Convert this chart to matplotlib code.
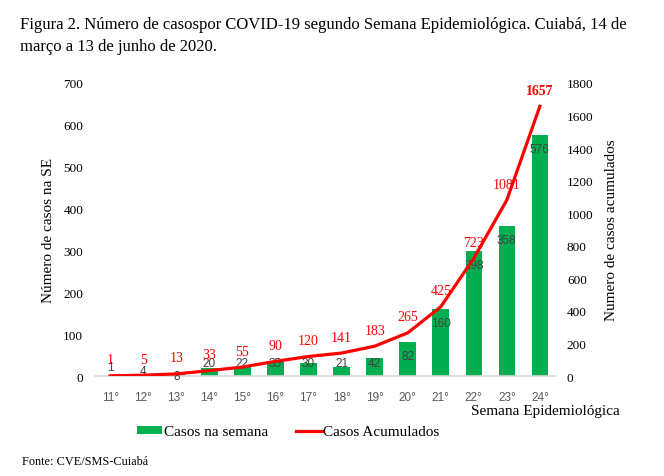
import matplotlib.pyplot as plt
import numpy as np
from matplotlib.patches import Patch
from matplotlib.lines import Line2D

#########################
semanas = ["11°", "12°", "13°", "14°", "15°", "16°", "17°", "18°", "19°", "20°", "21°", "22°", "23°", "24°"]
casos_semana = [1, 4, 8, 20, 22, 35, 30, 21, 42, 82, 160, 298, 358, 576]
casos_acumulados = [1, 5, 13, 33, 55, 90, 120, 141, 183, 265, 425, 723, 1081, 1657]

verde = "#00B050"
vermelho = "#FF0000"
serif = "Liberation Serif"
sans = "Liberation Sans"

fig = plt.figure(figsize=(6.64, 4.77), dpi=100)
ax = fig.add_axes([0.143, 0.2096, 0.693, 0.6144])
ax2 = ax.twinx()

x = np.arange(len(semanas))
ax.bar(x, casos_semana, width=0.5, color=verde, zorder=2)
ax2.plot(x, casos_acumulados, "-", color=vermelho, linewidth=2.3, zorder=3)

ax.set_ylim(0, 700)
ax2.set_ylim(0, 1800)
ax.set_xlim(-0.46, len(semanas) - 0.54)
ax.set_yticks(range(0, 701, 100))
ax2.set_yticks(range(0, 1801, 200))
ax.set_xticks(x)
ax.set_xticklabels(semanas, fontfamily=sans, fontsize=8.5, color="#595959")

for a in (ax, ax2):
    for s in a.spines.values():
        s.set_visible(False)
ax.spines["bottom"].set_visible(True)
ax.spines["bottom"].set_color("#D9D9D9")
ax.spines["bottom"].set_linewidth(1.2)
ax.tick_params(axis="x", length=0, pad=11)
ax.tick_params(axis="y", length=0, pad=8.5)
ax2.tick_params(axis="y", length=0, pad=8.5)
for lbl in ax.get_yticklabels() + ax2.get_yticklabels():
    lbl.set_fontfamily(serif)
    lbl.set_fontsize(9.5)

# rotulos semanais (dentro do topo da barra; barras pequenas ficam mais baixas)
for i, v in enumerate(casos_semana):
    if v >= 10:
        ypos = max(v - 33, 31)
    else:
        ypos = max(24 - 3 * v, 1)
    ax.text(i, ypos, str(v), ha="center", va="center", fontfamily=sans,
            fontsize=8.5, color="#404040", zorder=4)

# rotulos acumulados (acima da linha)
for i, v in enumerate(casos_acumulados):
    last = i == len(casos_acumulados) - 1
    ax2.annotate(str(v), (i, v), xytext=(0, 11.5), textcoords="offset points",
                 ha="center", va="center", fontfamily=serif, fontsize=10,
                 color=vermelho, fontweight="bold" if last else "normal", zorder=5)

ax.set_ylabel("Número de casos na SE", fontfamily=serif, fontsize=11)
ax.yaxis.set_label_coords(-0.087, 0.5)
ax2.set_ylabel("Numero de casos acumulados", fontfamily=serif, fontsize=11)
ax2.yaxis.set_label_coords(1.109, 0.5)

fig.text(620 / 664, 1 - 411 / 477, "Semana Epidemiológica", ha="right", va="center",
         fontfamily=serif, fontsize=11)

handles = [Patch(facecolor=verde, edgecolor="none"),
           Line2D([0], [0], color=vermelho, linewidth=2.3)]
fig.legend(handles, ["Casos na semana", "Casos Acumulados"], loc="center",
           bbox_to_anchor=(288 / 664, 1 - 433 / 477), ncol=2, frameon=False,
           prop={"family": serif, "size": 11}, handlelength=1.7, handleheight=0.5,
           handletextpad=0.1, columnspacing=1.8)

fig.text(20 / 664, 1 - 25 / 477,
         "Figura 2. Número de casospor COVID-19 segundo Semana Epidemiológica. Cuiabá, 14 de",
         ha="left", va="center", fontfamily=serif, fontsize=12)
fig.text(20 / 664, 1 - 47 / 477, "março a 13 de junho de 2020.",
         ha="left", va="center", fontfamily=serif, fontsize=12)
fig.text(22 / 664, 1 - 462 / 477, "Fonte: CVE/SMS-Cuiabá", ha="left", va="center",
         fontfamily=serif, fontsize=8.8)

fig.savefig("out.png", dpi=100)
